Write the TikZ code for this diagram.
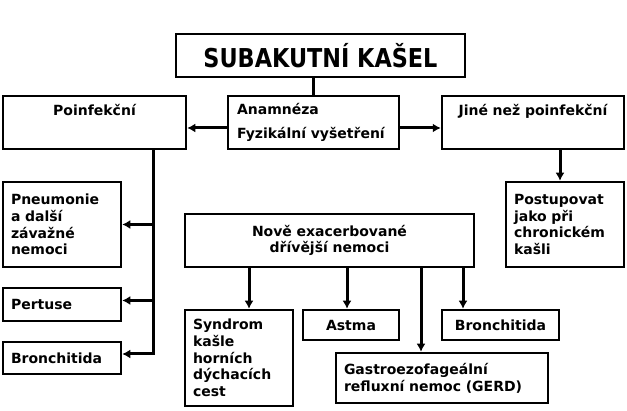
\documentclass[tikz,border=0pt]{standalone}
\usepackage{fontspec}
\setmainfont{DejaVu Sans}
\newfontfamily\titlefont{DejaVu Sans}[FakeStretch=0.86]
\usetikzlibrary{arrows.meta, positioning}
\tikzset{
  box/.style={draw, line width=2.5pt, inner sep=0pt,
    font={\bfseries\fontsize{14}{16.7}\selectfont}},
  lbox/.style={box, align=left, inner xsep=8pt},
  cbox/.style={box, align=center},
  conn/.style={line width=3pt},
  arr/.style={conn, -{Latex[length=8pt,width=9pt]}}
}

\begin{document}
\begin{tikzpicture}[x=1pt, y=-1pt]
  \useasboundingbox (0,0) rectangle (627,411);
  % top row
  \node[box, minimum width=289pt, minimum height=43pt,
    font={\titlefont\bfseries\fontsize{26}{30}\selectfont}]
    (title) at (320.5,55.5) {SUBAKUTNÍ KAŠEL};
  \node[cbox, text width=183pt, minimum height=53pt, text height=20pt, text depth=33pt]
    (poinf) at (94.5,122.5) {Poinfekční};
  \node[lbox, text width=153pt, minimum height=53pt, inner xsep=9pt]
    (anam) at (313.5,122.5) {Anamnéza\\[8pt]Fyzikální vyšetření};
  \node[cbox, text width=182pt, minimum height=53pt, text height=20pt, text depth=33pt]
    (jine) at (533,122.5) {Jiné než poinfekční};
  % left column
  \node[lbox, text width=102pt, minimum height=85pt] (pneu) at (62,224.5)
    {Pneumonie\\a další\\závažné\\nemoci};
  \node[lbox, text width=102pt, minimum height=33pt] (pert) at (62,304.5) {Pertuse};
  \node[lbox, text width=102pt, minimum height=32pt] (bron1) at (62,358) {Bronchitida};
  % middle
  \node[cbox, text width=289pt, minimum height=53pt] (nove) at (329.5,240.5)
    {Nově exacerbované\\dřívější nemoci};
  \node[lbox, text width=92pt, minimum height=96pt] (syn) at (239,358)
    {Syndrom\\kašle\\horních\\dýchacích\\cest};
  \node[cbox, text width=96pt, minimum height=30pt] (astma) at (351,325) {Astma};
  \node[cbox, text width=117pt, minimum height=30pt] (bron2) at (500.5,325) {Bronchitida};
  \node[lbox, text width=196pt, minimum height=50pt] (gerd) at (442,378)
    {Gastroezofageální\\refluxní nemoc (GERD)};
  % right column
  \node[lbox, text width=102pt, minimum height=85pt] (post) at (565,224.5)
    {Postupovat\\jako při\\chronickém\\kašli};

  \draw[conn] (anam.north) -- (anam.north |- title.south);
  \draw[arr] ([yshift=-5.5pt]anam.west) -- ([yshift=-5.5pt]anam.west -| poinf.east);
  \draw[arr] ([yshift=-5.5pt]anam.east) -- ([yshift=-5.5pt]anam.east -| jine.west);

  \coordinate (trunk) at ([xshift=58.5pt]poinf.south);
  \draw[arr] (trunk) |- ([yshift=4pt]bron1.east);
  \draw[arr] (trunk |- pneu.east) -- (pneu.east);
  \draw[arr] ([yshift=4pt]trunk |- pert.east) -- ([yshift=4pt]pert.east);

  \draw[arr] ([xshift=-5pt]post.north |- jine.south) -- ([xshift=-5pt]post.north);

  \draw[arr] ([xshift=10pt]syn.north |- nove.south) -- ([xshift=10pt]syn.north);
  \draw[arr] ([xshift=-4pt]astma.north |- nove.south) -- ([xshift=-4pt]astma.north);
  \draw[arr] ([xshift=-21pt]gerd.north |- nove.south) -- ([xshift=-21pt]gerd.north);
  \draw[arr] ([xshift=-37.5pt]bron2.north |- nove.south) -- ([xshift=-37.5pt]bron2.north);
\end{tikzpicture}
\end{document}
